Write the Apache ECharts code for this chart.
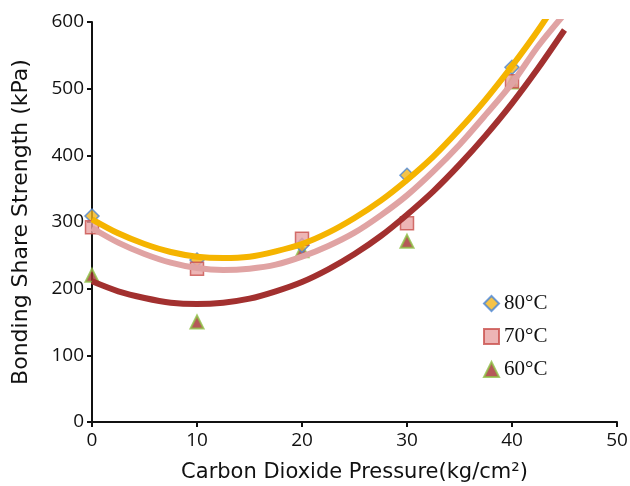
<!DOCTYPE html>
<html>
<head>
<meta charset="utf-8">
<script src="https://cdn.jsdelivr.net/npm/echarts@6/dist/echarts.min.js"></script>
<style>
  html, body { margin: 0; padding: 0; background: #fff; }
  #chart { width: 630px; height: 486px; }
</style>
</head>
<body>
<div id="chart"></div>
<script>
// Measured bonding shear strength at each CO2 pressure
const pressures = [0, 10, 20, 30, 40];
const strength80 = [309, 243, 265, 370, 532];
const strength70 = [292, 230, 275, 298, 511];
const strength60 = [220, 150, 257, 271, 510];

// Second-order trend curves, sampled every 2.5 kg/cm2 (extended to 45)
const trendX = [0, 2.5, 5, 7.5, 10, 12.5, 15, 17.5, 20, 22.5, 25, 27.5, 30, 32.5, 35, 37.5, 40, 42.5, 45];
const trend80 = [304, 283, 267, 255, 248, 246, 248, 256, 267, 284, 306, 332, 363, 398, 439, 484, 534, 588, 648];
const trend70 = [291, 269, 252, 239, 231, 228, 230, 236, 248, 264, 284, 310, 340, 376, 416, 461, 508, 564, 612];
const trend60 = [211, 196, 186, 179, 177, 179, 185, 196, 210, 229, 252, 279, 311, 346, 386, 430, 478, 531, 588];

const xTicks = [0, 10, 20, 30, 40, 50];
const yTicks = [0, 100, 200, 300, 400, 500, 600];

const seriesNames = ['80°C', '70°C', '60°C'];

function pairs(xs, ys) {
  return xs.map((x, i) => [x, ys[i]]);
}

function trend(ys, color, z) {
  return {
    type: 'line',
    data: pairs(trendX, ys),
    smooth: 0.3,
    showSymbol: false,
    symbol: 'none',
    clip: true,
    lineStyle: { color: color, width: 6 },
    z: z,
    silent: true
  };
}

const chart = echarts.init(document.getElementById('chart'), null, { renderer: 'canvas' });

const tickFont = { fontFamily: 'Open Sans', fontSize: 19, color: '#111' };
const nameFont = { fontFamily: 'DejaVu Sans', fontSize: 21, color: '#111' };

chart.setOption({
  backgroundColor: '#ffffff',
  animation: false,
  grid: { left: 92, right: 13, top: 22, bottom: 64, containLabel: false, outerBoundsMode: 'none' },
  legend: {
    data: seriesNames,
    orient: 'vertical',
    left: 478,
    top: 288,
    itemWidth: 15,
    itemHeight: 15,
    itemGap: 12,
    textStyle: { fontFamily: 'Liberation Serif', fontSize: 21, color: '#111' }
  },
  xAxis: {
    type: 'value',
    min: 0,
    max: 50,
    interval: 10,
    name: 'Carbon Dioxide Pressure(kg/cm²)',
    nameLocation: 'middle',
    nameGap: 40,
    nameTextStyle: nameFont,
    axisLine: { show: true, lineStyle: { color: '#111', width: 2 } },
    axisTick: { show: true, length: 5, lineStyle: { color: '#111', width: 2 } },
    axisLabel: Object.assign({}, tickFont, {
      margin: 9,
      formatter: v => xTicks.includes(v) ? String(v) : ''
    }),
    splitLine: { show: false }
  },
  yAxis: {
    type: 'value',
    min: 0,
    max: 600,
    interval: 100,
    name: 'Bonding Share Strength (kPa)',
    nameLocation: 'middle',
    nameGap: 60,
    nameTextStyle: Object.assign({}, nameFont, { fontSize: 22 }),
    axisLine: { show: true, lineStyle: { color: '#111', width: 2 } },
    axisTick: { show: true, length: 5, lineStyle: { color: '#111', width: 2 } },
    axisLabel: Object.assign({}, tickFont, {
      margin: 8,
      formatter: v => yTicks.includes(v) ? String(v) : ''
    }),
    splitLine: { show: false }
  },
  series: [
    {
      name: seriesNames[2],
      type: 'scatter',
      data: pairs(pressures, strength60),
      symbol: 'triangle',
      symbolSize: 13,
      itemStyle: { color: '#a3302e', borderColor: '#8fbf45', borderWidth: 2 },
      z: 2
    },
    {
      name: seriesNames[1],
      type: 'scatter',
      data: pairs(pressures, strength70),
      symbol: 'rect',
      symbolSize: 13,
      itemStyle: { color: '#e9a2a2', borderColor: '#c9504c', borderWidth: 1.5 },
      z: 3
    },
    {
      name: seriesNames[0],
      type: 'scatter',
      data: pairs(pressures, strength80),
      symbol: 'diamond',
      symbolSize: 14,
      itemStyle: { color: '#f3b41b', borderColor: '#4a84d4', borderWidth: 1.5 },
      z: 2
    },
    trend(trend60, '#a2302f', 4),
    trend(trend70, '#e0a3a3', 4),
    trend(trend80, '#f5b400', 4)
  ]
});
</script>
</body>
</html>
